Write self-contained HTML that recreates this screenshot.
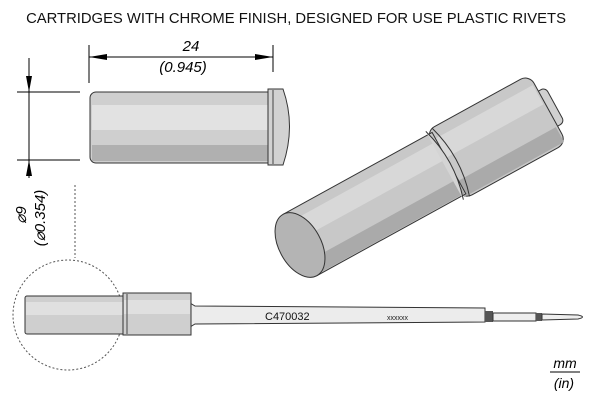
<!DOCTYPE html>
<html><head><style>body{margin:0;background:#fff}svg{display:block}</style></head><body>
<svg width="600" height="400" viewBox="0 0 600 400" xmlns="http://www.w3.org/2000/svg" font-family="Liberation Sans, sans-serif">
<text x="296" y="23" font-size="14.8" text-anchor="middle" fill="#111">CARTRIDGES WITH CHROME FINISH, DESIGNED FOR USE PLASTIC RIVETS</text>
<g stroke="#000" stroke-width="1" fill="none">
<line x1="89" y1="45" x2="89" y2="83"/><line x1="273" y1="45" x2="273" y2="72"/>
<line x1="89" y1="57" x2="273" y2="57"/>
<line x1="17" y1="92" x2="80" y2="92"/><line x1="17" y1="160" x2="80" y2="160"/>
<line x1="29" y1="58" x2="29" y2="178"/>
</g>
<polygon points="89,57 107,54 107,60" fill="#000"/><polygon points="273,57 255,54 255,60" fill="#000"/>
<polygon points="29,92 26,76 32,76" fill="#000"/><polygon points="29,160 26,176 32,176" fill="#000"/>
<text x="191" y="51" font-size="15" font-style="italic" text-anchor="middle">24</text>
<text x="183" y="72" font-size="15" font-style="italic" text-anchor="middle">(0.945)</text>
<text transform="translate(26,215) rotate(-90)" font-size="15" font-style="italic" text-anchor="middle">⌀9</text>
<text transform="translate(45,218) rotate(-90)" font-size="15" font-style="italic" text-anchor="middle">(⌀0.354)</text>
<rect x="90" y="92" width="185" height="71" rx="6" fill="#cfcfcf" stroke="#333"/>
<rect x="92" y="105" width="181" height="25" fill="#e2e2e2"/>
<rect x="92" y="145" width="181" height="16" fill="#b0b0b0"/>
<path d="M268,89 L283,89 Q296,126 283,165 L268,165 Z" fill="#d2d2d2" stroke="#333"/>
<line x1="273" y1="90" x2="273" y2="164" stroke="#444"/>
<g transform="translate(300,245) rotate(-28.8)">
<rect x="275" y="-20" width="16" height="40" rx="5" fill="#d0d0d0" stroke="#333"/>
<rect x="165" y="-39" width="118" height="78" rx="10" fill="#c8c8c8" stroke="#333"/>
<rect x="167" y="-28" width="114" height="22" fill="#d8d8d8"/>
<rect x="167" y="20" width="114" height="17" fill="#aaa"/>
<rect x="0" y="-35" width="170" height="70" fill="#c8c8c8" stroke="#333"/>
<rect x="1" y="-25" width="168" height="20" fill="#d8d8d8"/>
<rect x="1" y="18" width="168" height="16" fill="#aaa"/>
<path d="M165,-39 Q177,0 165,39" fill="#d4d4d4" stroke="#333"/>
<path d="M172,-39 Q184,0 172,39" fill="none" stroke="#333"/>
<ellipse cx="0" cy="0" rx="21" ry="35" fill="#b4b4b4" stroke="#333"/>
</g>
<circle cx="68" cy="315" r="55" fill="none" stroke="#555" stroke-dasharray="2,2"/>
<line x1="75" y1="185" x2="75" y2="258" stroke="#555" stroke-dasharray="2,2"/>
<path d="M190,303 L195,306 L485,308 L485,322 L195,324 L190,327 Z" fill="#ececec" stroke="#333"/>
<rect x="25" y="296" width="102" height="38" rx="2" fill="#cfcfcf" stroke="#333"/>
<rect x="26" y="302" width="100" height="13" fill="#e0e0e0"/>
<rect x="123" y="293" width="68" height="42" fill="#cfcfcf" stroke="#333"/>
<rect x="124" y="300" width="66" height="14" fill="#e0e0e0"/>
<line x1="127" y1="294" x2="127" y2="334" stroke="#444"/>
<rect x="485" y="311" width="8" height="11" fill="#555"/>
<rect x="493" y="313" width="43" height="8" fill="#eee" stroke="#333"/>
<rect x="536" y="313" width="6" height="8" fill="#555"/>
<path d="M542,314 L578,315 Q587,317 578,319 L542,320 Z" fill="#eee" stroke="#333"/>
<text x="265" y="320" font-size="11" fill="#111">C470032</text>
<text x="387" y="320" font-size="7" fill="#222">xxxxxx</text>
<text x="565" y="368" font-size="14" font-style="italic" text-anchor="middle">mm</text>
<line x1="550" y1="372" x2="580" y2="372" stroke="#000"/>
<text x="564" y="388" font-size="14" font-style="italic" text-anchor="middle">(in)</text>
</svg>
</body></html>
